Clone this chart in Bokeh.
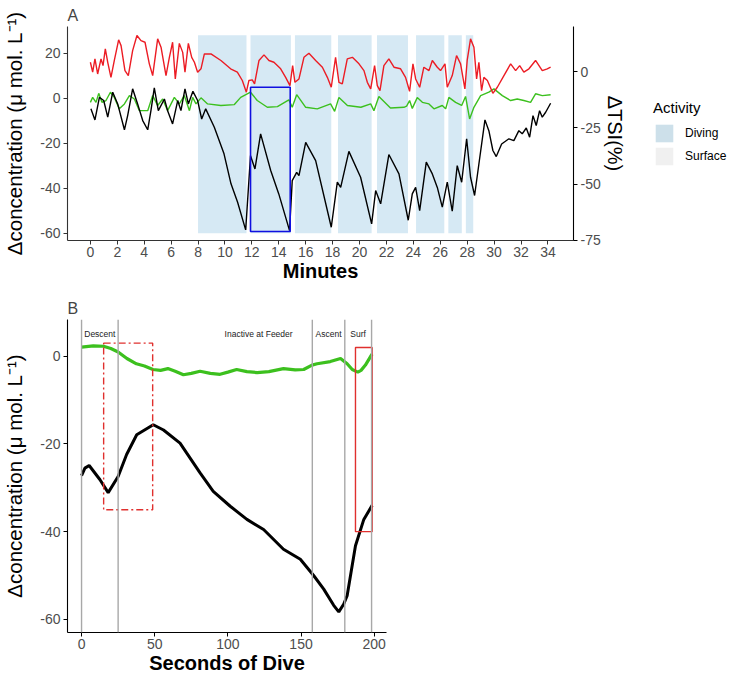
from bokeh.plotting import figure
from bokeh.models import Range1d, LinearAxis, Legend, LegendItem, FixedTicker, Span
from bokeh.layouts import column, row
from bokeh.embed import file_html
from bokeh.resources import INLINE
from bokeh.core.properties import value

# ---------------- Panel A data ----------------
minute_ticks = list(range(0, 35, 2))
conc_ticks_a = [-60, -40, -20, 0, 20]
tsi_ticks = [-75, -50, -25, 0]

dive_start = [8.0, 11.9, 15.2, 18.4, 21.3, 24.2, 26.6, 27.9]
dive_end = [11.6, 14.9, 17.9, 20.9, 23.6, 26.3, 27.6, 28.45]

red_t = [0.00, 0.17, 0.34, 0.54, 0.79, 0.94, 1.11, 1.29, 1.53, 1.78,
         2.10, 2.28, 2.57, 2.82, 3.14, 3.46, 3.76, 4.06, 4.38, 4.63,
         5.00, 5.25, 5.62, 5.87, 6.11, 6.31, 6.61, 6.86, 7.03, 7.28,
         7.53, 7.73, 7.97, 8.22, 8.47, 8.96, 9.70, 10.42, 10.92, 11.29,
         11.59, 11.78, 12.03, 12.20, 12.53, 12.90, 13.27, 13.64, 14.14, 14.51,
         14.83, 15.03, 15.20, 15.50, 15.87, 16.24, 16.74, 17.24, 17.61, 17.90,
         18.22, 18.47, 18.72, 19.09, 19.47, 19.96, 20.33, 20.58, 20.83, 21.12,
         21.32, 21.52, 21.81, 22.18, 22.56, 23.05, 23.42, 23.72, 23.97, 24.17,
         24.47, 24.78, 25.16, 25.41, 25.78, 26.02, 26.35, 26.52, 26.89, 27.21,
         27.51, 27.83, 28.00, 28.25, 28.50, 28.70, 28.87, 29.07, 29.24, 29.50,
         29.91, 30.24, 30.73, 31.23, 31.60, 31.90, 32.21, 32.59, 33.08, 33.58,
         33.95, 34.20]
red_tsi = [4.1, -0.3, 5.6, -1.1, 5.6, 2.6, 10.1, 4.1, -2.6, 4.9,
           14.1, 11.5, 0.4, -1.8, 9.3, 16.0, 13.7, 13.0, 3.4, -1.8,
           14.5, 10.8, -1.8, 6.3, 13.0, -3.3, 12.5, 8.5, -0.3, 12.5,
           6.3, 4.1, -0.3, 1.2, 7.8, 7.8, 4.9, 1.2, -0.3, -4.0,
           -9.2, -4.0, -3.7, -5.5, 4.9, 7.4, 4.9, 4.1, 1.2, -2.6,
           -6.3, 2.6, -4.8, -3.3, 6.3, 8.1, 4.9, 1.9, -2.6, -7.0,
           6.3, -4.8, -5.5, 5.6, 6.3, 3.4, 0.4, -4.8, -7.7, 2.6,
           -6.3, -8.5, 2.6, 5.6, 1.9, 1.2, -2.6, -8.8, 3.4, -3.3,
           -7.0, 1.9, 0.4, 4.9, 1.9, 0.4, 3.4, -7.0, -1.8, 7.1,
           3.4, -7.7, 4.9, 14.5, 10.8, -3.3, 4.1, -8.5, -2.6, -4.0,
           -9.7, -7.0, -1.8, 3.4, 0.4, 2.6, -0.3, 1.2, 4.9, 0.4,
           1.2, 1.9]

green_t = [0.00, 0.17, 0.42, 0.62, 0.86, 1.16, 1.49, 1.78, 2.15, 2.53,
           2.90, 3.27, 3.64, 4.26, 4.63, 5.00, 5.37, 5.74, 6.24, 6.61,
           6.98, 7.36, 7.60, 7.85, 8.22, 8.71, 9.70, 10.70, 11.17, 11.90,
           12.40, 13.15, 13.90, 14.75, 15.00, 15.33, 16.00, 16.86, 17.85, 18.15,
           18.47, 19.10, 20.10, 20.83, 21.07, 21.44, 22.30, 23.30, 23.50, 23.72,
           23.92, 24.29, 24.67, 25.16, 25.53, 26.15, 26.40, 26.64, 27.14, 27.59,
           27.88, 28.18, 28.50, 29.00, 29.61, 29.99, 30.61, 31.23, 31.72, 32.21,
           32.71, 33.08, 33.58, 34.20]
green_conc = [-1.8, 0.4, -1.8, 2.2, -1.8, -1.0, 2.7, 0.4, -4.7, -2.5,
              1.2, -0.3, -5.5, -5.5, 1.2, -3.2, -0.3, -5.5, 0.4, -2.5,
              1.2, -5.5, 0.4, -2.5, 0.2, -2.5, -3.2, -2.8, 0.4, 2.7,
              -1.0, -4.0, -3.7, -0.7, -4.0, 1.6, -4.0, -4.7, -2.5, -5.8,
              0.4, -3.2, -4.0, -2.5, -5.5, 0.8, -4.3, -4.0, -3.5, -1.0,
              -4.5, 0.3, -1.8, -2.5, -4.7, -3.2, -4.7, 0.4, -1.8, -3.2,
              0.8, -9.2, -4.0, 1.2, 2.7, 4.2, 1.2, -1.0, -0.3, -1.0,
              -1.8, 2.0, 1.2, 1.6]

black_t = [0.04, 0.34, 0.67, 0.99, 1.29, 1.66, 2.03, 2.53, 2.77, 3.14,
           3.51, 3.89, 4.26, 4.50, 4.75, 5.05, 5.50, 5.74, 6.11, 6.49,
           6.73, 7.03, 7.28, 7.62, 7.97, 8.27, 8.57, 9.21, 9.93, 10.45,
           10.94, 11.54, 11.90, 12.23, 12.65, 13.40, 14.00, 14.80, 15.00, 15.33,
           15.50, 16.00, 16.74, 17.90, 18.35, 18.60, 19.21, 20.08, 20.90, 21.20,
           21.57, 22.18, 22.93, 23.62, 23.92, 24.17, 24.47, 24.96, 25.41, 25.78,
           26.15, 26.52, 26.89, 27.26, 27.59, 27.96, 28.25, 28.55, 28.87, 29.32,
           29.61, 29.91, 30.16, 30.56, 31.10, 31.47, 31.84, 32.09, 32.39, 32.64,
           32.89, 33.13, 33.38, 33.58, 33.83, 34.20]
black_conc = [-4.7, -9.6, 0.4, -1.0, -8.4, 2.7, -2.5, -14.0, -7.7, 4.2,
              -2.5, -9.9, -14.0, -5.5, 4.6, -5.5, -0.3, -5.5, -11.4, -1.0,
              -5.5, 4.2, -2.5, 3.1, -1.0, -9.2, -4.7, -12.9, -24.7, -38.0,
              -46.2, -58.5, -25.5, -31.4, -15.8, -32.1, -42.5, -58.8, -36.6, -32.9,
              -34.4, -19.6, -27.7, -57.3, -37.3, -39.6, -23.6, -35.1, -55.8, -41.0,
              -46.9, -25.0, -33.6, -54.2, -42.5, -39.6, -49.9, -28.4, -33.6, -39.6,
              -48.4, -37.3, -50.2, -29.9, -37.3, -18.0, -35.1, -43.2, -29.2, -9.6,
              -14.4, -23.2, -25.9, -20.3, -18.0, -18.8, -14.4, -15.8, -13.2, -17.3,
              -7.7, -12.1, -5.5, -8.4, -6.2, -2.2]

# highlighted dive (blue box) in panel A
box_a = dict(left=[11.9], right=[14.85], bottom=[-59.2], top=[4.9])

activity_labels = ["Diving", "Surface"]

# ---------------- Panel B data ----------------
sec_ticks = [0, 50, 100, 150, 200]
conc_ticks_b = [-60, -40, -20, 0]

sec_green = [0, 8, 15, 20, 25, 31, 37.5, 43, 48.8, 54, 59, 64, 69.6, 75, 81, 88,
             94.7, 100, 106, 113, 120, 128, 138, 146, 151.8, 157.5, 161, 170, 177,
             181.5, 185, 188.8, 191, 194, 198.5]
green_b = [2.1, 2.4, 2.3, 1.8, 1.0, -0.5, -1.7, -2.2, -3.0, -3.2, -2.8, -3.4, -4.2,
           -3.9, -3.4, -3.9, -4.1, -3.6, -3.0, -3.5, -3.7, -3.5, -2.8, -3.1, -3.0,
           -2.0, -1.7, -1.2, -0.5, -1.7, -3.0, -3.6, -3.2, -2.0, 0.5]

sec_black = [0, 2.3, 5.2, 12.5, 18.2, 25, 30.8, 37.7, 49, 56, 67.3, 71.9, 81, 90,
             101.6, 113, 124.4, 138, 149.5, 158.6, 165.5, 172.3, 175.8, 179.2,
             181.5, 187.2, 192.9, 198.6]
black_b = [-27.2, -25.5, -24.9, -28.1, -31.1, -27.4, -22.4, -17.9, -15.6, -16.8,
           -19.8, -22.1, -26.6, -30.8, -34.2, -37.2, -39.5, -44.0, -46.3, -50.0,
           -53.1, -56.8, -58.3, -56.5, -54.6, -43.2, -37.2, -34.0]

phase_bounds = [0, 25, 157.7, 179.9, 198.2]
phase_names = ["Descent", "Inactive at Feeder", "Ascent", "Surf"]
phase_label_x = [12.5, 121, 168.8, 189]

box_dd = dict(left=[15.1], right=[48.6], bottom=[-35.0], top=[3.0])
box_surf = dict(left=[187.2], right=[198.6], bottom=[-40.0], top=[2.0])

# ---------------- styling ----------------
FONT = "Liberation Sans"
RED = "#ec1c24"
GREEN = "#3cc01e"
BAND = "#d6e9f4"
BAND_KEY = "#cde0ea"
SURF_KEY = "#f0f0f0"
TICK_C = "#4d4d4d"
YLABEL = "\u0394concentration (\u03bc mol. L\u207b\u00b9)"

Y_A = (-63.2, 31.9)
TSI_OFFSET = 11.9
H1 = 290


def style_axis(ax, ticks, label_size="20.5px", bold=False, line_color="#333333"):
    ax.ticker = FixedTicker(ticks=ticks)
    ax.major_label_overrides = {t: str(t) for t in ticks}
    ax.axis_line_color = line_color
    ax.axis_line_width = 1.1
    ax.major_tick_line_color = line_color
    ax.major_tick_out = 4
    ax.major_tick_in = 0
    ax.minor_tick_line_color = None
    ax.major_label_text_font = FONT
    ax.major_label_text_font_size = "14px"
    ax.major_label_text_color = TICK_C
    ax.major_label_standoff = 3
    ax.axis_label_text_font = FONT
    ax.axis_label_text_font_size = label_size
    ax.axis_label_text_color = "black"
    ax.axis_label_text_font_style = "bold" if bold else "normal"


def style_title(p, text):
    p.title.text = text
    p.title.text_font = FONT
    p.title.text_font_size = "16px"
    p.title.text_font_style = "normal"
    p.title.align = "left"
    p.title.standoff = 5


# ---------------- Panel A ----------------
p1 = figure(width=643, height=H1, output_backend="svg", toolbar_location=None,
            x_range=Range1d(-1.7, 35.9), y_range=Range1d(*Y_A),
            min_border_left=67, min_border_right=70, min_border_top=26,
            min_border_bottom=50)
p1.extra_y_ranges = {"tsi": Range1d(Y_A[0] - TSI_OFFSET, Y_A[1] - TSI_OFFSET)}
p1.grid.visible = False
p1.outline_line_color = None
style_title(p1, "A")

p1.quad(left=dive_start, right=dive_end, bottom=-60, top=28,
        fill_color=BAND, line_color=None)
p1.line(green_t, green_conc, line_color=GREEN, line_width=1.4)
p1.line(red_t, red_tsi, line_color=RED, line_width=1.4, y_range_name="tsi")
p1.line(black_t, black_conc, line_color="black", line_width=1.4)
p1.quad(fill_color=None, line_color="#1010e0", line_width=1.6, **box_a)

p1.xaxis.axis_label = "Minutes"
style_axis(p1.xaxis[0], minute_ticks, label_size="20px", bold=True)
p1.xaxis.major_label_standoff = 2
p1.xaxis.axis_label_standoff = 0
p1.yaxis.axis_label = YLABEL
style_axis(p1.yaxis[0], conc_ticks_a)
p1.yaxis.axis_label_standoff = 11

ax_r = LinearAxis(y_range_name="tsi", axis_label="\u0394TSI(%)")
style_axis(ax_r, tsi_ticks, label_size="20px", line_color="black")
ax_r.axis_label_standoff = 0
p1.add_layout(ax_r, "right")

# ---------------- Legend panel ----------------
# the key renderers hold the first diving / surface interval; the panel's own
# ranges lie beyond all data, so only their legend swatches are visible.
pl = figure(width=87, height=H1, output_backend="svg", toolbar_location=None,
            x_range=Range1d(50, 51), y_range=Range1d(50, 51),
            x_axis_type=None, y_axis_type=None,
            min_border_left=0, min_border_right=0, min_border_top=0,
            min_border_bottom=0)
pl.grid.visible = False
pl.outline_line_color = None
key_dive = pl.quad(left=dive_start[:1], right=dive_end[:1], bottom=[-60], top=[28],
                   fill_color=BAND_KEY, line_color=None)
key_surf = pl.quad(left=[0.0], right=dive_start[:1], bottom=[-60], top=[28],
                   fill_color=SURF_KEY, line_color=None)
legend = Legend(items=[LegendItem(label=activity_labels[0], renderers=[key_dive]),
                       LegendItem(label=activity_labels[1], renderers=[key_surf])],
                title="Activity", location=(10, 73))
legend.title_text_font = FONT
legend.title_text_font_size = "15px"
legend.title_text_font_style = "normal"
legend.title_text_color = "black"
legend.title_standoff = 6
legend.label_text_font = FONT
legend.label_text_font_size = "12px"
legend.label_text_color = "black"
legend.glyph_width = 22
legend.glyph_height = 22
legend.label_height = 22
legend.spacing = 1
legend.label_standoff = 10
legend.padding = 4
legend.margin = 0
legend.border_line_color = None
legend.background_fill_alpha = 0
pl.add_layout(legend)

# ---------------- Panel B ----------------
p2 = figure(width=406, height=388, output_backend="svg", toolbar_location=None,
            x_range=Range1d(-9.6, 208.4), y_range=Range1d(-63.0, 8.4),
            min_border_left=67, min_border_right=20, min_border_top=29,
            min_border_bottom=46)
p2.grid.visible = False
p2.outline_line_color = None
style_title(p2, "B")

for b in phase_bounds:
    p2.add_layout(Span(location=b, dimension="height", line_color="#a8a8a8",
                       line_width=1.4))

p2.text(x=phase_label_x, y=[5.0] * len(phase_label_x), text=phase_names,
        text_align="center", text_baseline="middle", text_font_size="8.5px",
        text_font=value(FONT), text_color="#222222")

p2.line(sec_green, green_b, line_color=GREEN, line_width=3.2)
p2.line(sec_black, black_b, line_color="black", line_width=3.0)
p2.quad(fill_color=None, line_color="#e0302e", line_width=1.4,
        line_dash="7 3 2 3", **box_dd)
p2.quad(fill_color=None, line_color="#e0302e", line_width=1.4, **box_surf)

p2.xaxis.axis_label = "Seconds of Dive"
style_axis(p2.xaxis[0], sec_ticks, label_size="20px", bold=True, line_color="black")
p2.xaxis.major_label_standoff = 2
p2.xaxis.axis_label_standoff = 0
p2.yaxis.axis_label = YLABEL
style_axis(p2.yaxis[0], conc_ticks_b, line_color="black")
p2.yaxis.axis_label_standoff = 11

layout = column(row(p1, pl), p2)
open("out.html", "w").write(file_html(layout, INLINE))
